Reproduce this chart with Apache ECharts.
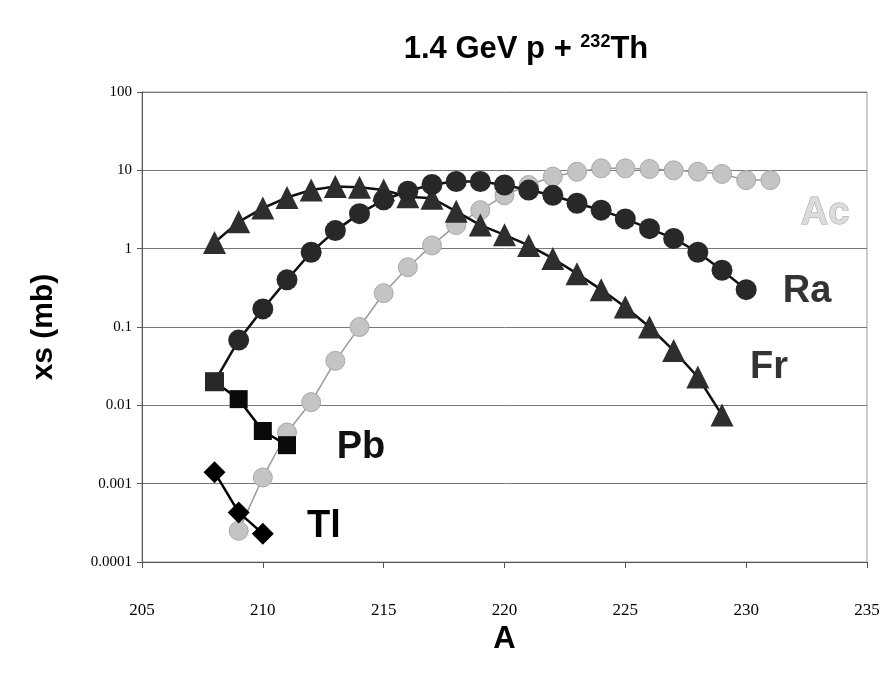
<!DOCTYPE html>
<html>
<head>
<meta charset="utf-8">
<script src="https://cdn.jsdelivr.net/npm/echarts@6/dist/echarts.min.js"></script>
<style>
  html, body { margin: 0; padding: 0; background: #fff; }
  #chart { width: 890px; height: 679px; }
</style>
</head>
<body>
<div id="chart"></div>
<script>
// mass numbers and cross sections (mb)
var massTl = [208, 209, 210];
var xsTl = [0.0014, 0.00043, 0.00023];

var massPb = [208, 209, 210, 211];
var xsPb = [0.02, 0.012, 0.0047, 0.0031];

var massFr = [208, 209, 210, 211, 212, 213, 214, 215, 216, 217, 218, 219, 220, 221, 222, 223, 224, 225, 226, 227, 228, 229];
var xsFr = [1.2, 2.2, 3.3, 4.5, 5.6, 6.2, 6.1, 5.6, 4.6, 4.4, 3.0, 2.0, 1.5, 1.1, 0.75, 0.48, 0.3, 0.18, 0.1, 0.05, 0.023, 0.0075];

var massRa = [208, 209, 210, 211, 212, 213, 214, 215, 216, 217, 218, 219, 220, 221, 222, 223, 224, 225, 226, 227, 228, 229, 230];
var xsRa = [0.02, 0.068, 0.17, 0.4, 0.9, 1.7, 2.8, 4.2, 5.4, 6.6, 7.2, 7.2, 6.5, 5.6, 4.8, 3.8, 3.1, 2.4, 1.8, 1.35, 0.9, 0.53, 0.3];

var massAc = [209, 210, 211, 212, 213, 214, 215, 216, 217, 218, 219, 220, 221, 222, 223, 224, 225, 226, 227, 228, 229, 230, 231];
var xsAc = [0.00025, 0.0012, 0.0045, 0.011, 0.037, 0.1, 0.27, 0.58, 1.1, 2.0, 3.1, 4.8, 6.5, 8.3, 9.6, 10.6, 10.6, 10.4, 10.0, 9.6, 9.0, 7.5, 7.5];

var yTicks = ['0.0001', '0.001', '0.01', '0.1', '1', '10', '100'];

function pairs(xs, ys) {
  return xs.map(function (x, i) { return [x, ys[i]]; });
}

var chart = echarts.init(document.getElementById('chart'));

var serif = "'Liberation Serif', 'DejaVu Serif', serif";
var sans = "'Liberation Sans', Arial, sans-serif";

// Ra point at 208 sits on the Pb square and shows as a square
var raData = pairs(massRa, xsRa);
raData[0] = { value: raData[0], symbol: 'rect', symbolSize: 19 };

function tag(text, x, y, fill, stroke) {
  return {
    type: 'text', x: x, y: y, z: 20,
    style: {
      text: text, font: 'bold 38px ' + sans, fill: fill,
      stroke: stroke || null, lineWidth: stroke ? 1 : 0,
      textAlign: 'center', textVerticalAlign: 'middle'
    }
  };
}

var option = {
  backgroundColor: '#fff',
  animation: false,
  title: {
    text: '1.4 GeV p + {sup|232}Th',
    left: 521,
    top: 28,
    textAlign: 'center',
    textStyle: {
      fontFamily: sans,
      fontWeight: 'bold',
      fontSize: 31,
      color: '#000',
      rich: {
        sup: { fontFamily: sans, fontWeight: 'bold', fontSize: 18, color: '#000', verticalAlign: 'top', padding: [0, 0, 14, 0] }
      }
    }
  },
  grid: {
    left: 142, right: 23, top: 92, bottom: 117,
    show: true,
    borderColor: '#999',
    borderWidth: 1
  },
  xAxis: {
    type: 'value',
    min: 205, max: 235, interval: 5,
    name: 'A',
    nameLocation: 'middle',
    nameGap: 57,
    nameTextStyle: { fontFamily: sans, fontWeight: 'bold', fontSize: 31, color: '#000' },
    axisLine: { lineStyle: { color: '#555', width: 1 } },
    axisTick: { inside: false, length: 6, lineStyle: { color: '#555' } },
    axisLabel: { fontFamily: serif, fontSize: 17, color: '#000', margin: 40 },
    splitLine: { show: false }
  },
  yAxis: {
    type: 'log',
    logBase: 10,
    min: 0.0001, max: 100,
    name: 'xs (mb)',
    nameLocation: 'middle',
    nameGap: 83,
    nameTextStyle: { fontFamily: sans, fontWeight: 'bold', fontSize: 30, color: '#000' },
    axisLine: { show: true, lineStyle: { color: '#555', width: 1 } },
    axisTick: { show: true, length: 5, lineStyle: { color: '#555' } },
    axisLabel: {
      fontFamily: serif, fontSize: 15, color: '#000', margin: 10,
      formatter: function (v) {
        var e = Math.round(Math.log10(v)) + 4;
        return yTicks[e] !== undefined ? yTicks[e] : '';
      }
    },
    splitLine: { show: true, lineStyle: { color: '#777', width: 1 } }
  },
  graphic: [
    tag('Ac', 825, 214, '#dcdcdc', '#a0a0a0'),
    tag('Ra', 807, 292, '#333'),
    tag('Fr', 769, 368, '#333'),
    tag('Pb', 361, 448, '#111'),
    tag('Tl', 324, 527, '#000')
  ],
  series: [
    {
      name: 'Ac', type: 'line', data: pairs(massAc, xsAc),
      symbol: 'circle', symbolSize: 19, z: 2,
      lineStyle: { color: '#9a9a9a', width: 1.5 },
      itemStyle: { color: '#c4c4c4', borderColor: '#a8a8a8', borderWidth: 1 }
    },
    {
      name: 'Fr', type: 'line', data: pairs(massFr, xsFr),
      symbol: 'triangle', symbolSize: 23, z: 3,
      lineStyle: { color: '#111', width: 2.5 },
      itemStyle: { color: '#2e2e2e' }
    },
    {
      name: 'Pb', type: 'line', data: pairs(massPb, xsPb),
      symbol: 'rect', symbolSize: 18, z: 4,
      lineStyle: { color: '#000', width: 2.5 },
      itemStyle: { color: '#0a0a0a' }
    },
    {
      name: 'Ra', type: 'line', data: raData,
      symbol: 'circle', symbolSize: 21, z: 5,
      lineStyle: { color: '#111', width: 2.5 },
      itemStyle: { color: '#282828' }
    },
    {
      name: 'Tl', type: 'line', data: pairs(massTl, xsTl),
      symbol: 'diamond', symbolSize: 22, z: 5,
      lineStyle: { color: '#000', width: 2.5 },
      itemStyle: { color: '#000' }
    }
  ]
};

chart.setOption(option);
</script>
</body>
</html>
